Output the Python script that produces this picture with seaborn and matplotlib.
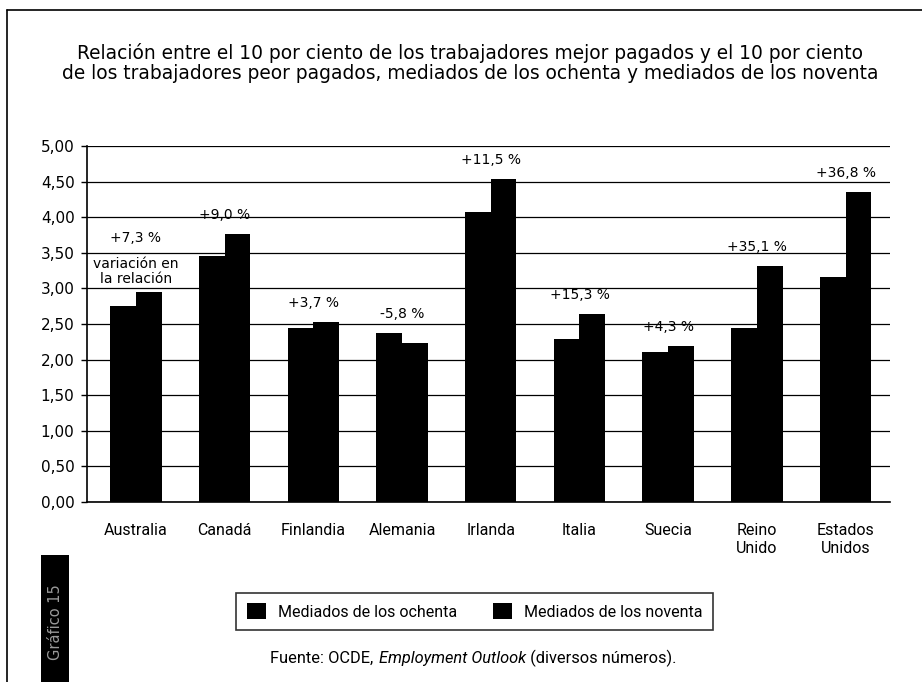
import matplotlib

matplotlib.use("Agg")
import matplotlib.pyplot as plt
import numpy as np
import pandas as pd
import seaborn as sns
from matplotlib.lines import Line2D
from matplotlib.patches import Rectangle

COUNTRIES = ["Australia", "Canadá", "Finlandia", "Alemania", "Irlanda", "Italia", "Suecia", "Reino\nUnido", "Estados\nUnidos"]
SERIES = ["Mediados de los ochenta", "Mediados de los noventa"]
MID_80S = [2.75, 3.45, 2.44, 2.37, 4.08, 2.29, 2.10, 2.44, 3.16]
MID_90S = [2.95, 3.76, 2.53, 2.24, 4.53, 2.64, 2.19, 3.31, 4.35]
CHANGE_PCT = [7.3, 9.0, 3.7, -5.8, 11.5, 15.3, 4.3, 35.1, 36.8]
Y_TICKS = np.arange(0, 5.01, 0.5)

NARROW = ["Roboto", "DejaVu Sans"]
WIDE = ["DejaVu Sans"]

sns.set_theme(style="white")
plt.rcParams["font.family"] = NARROW
plt.rcParams["text.color"] = "black"
plt.rcParams["xtick.color"] = "black"
plt.rcParams["ytick.color"] = "black"

W, H = 922, 682

df = pd.DataFrame(
    {
        "country": COUNTRIES * 2,
        "period": [SERIES[0]] * len(COUNTRIES) + [SERIES[1]] * len(COUNTRIES),
        "value": MID_80S + MID_90S,
    }
)

fig = plt.figure(figsize=(W / 100, H / 100), dpi=100)
ax = fig.add_axes([87 / W, 1 - 502 / H, 803 / W, 356 / H])

sns.barplot(
    data=df,
    x="country",
    y="value",
    hue="period",
    hue_order=SERIES,
    order=COUNTRIES,
    palette=["black", "black"],
    width=0.58,
    gap=0,
    linewidth=0,
    edgecolor="none",
    saturation=1,
    ax=ax,
)

handles, labels = ax.get_legend_handles_labels()
ax.legend_.remove()

ax.set_ylim(0, 5)
ax.set_xlim(-0.55, len(COUNTRIES) - 0.55)
ax.set_yticks(Y_TICKS)
ax.set_yticklabels([f"{v:.2f}".replace(".", ",") for v in Y_TICKS], family=WIDE, fontsize=11)
ax.set_xticks(range(len(COUNTRIES)))
ax.set_xticklabels(COUNTRIES, fontsize=11.5, va="top", linespacing=1.3)
ax.set_xticks(np.arange(-0.5, len(COUNTRIES)), minor=True)
ax.tick_params(axis="x", which="major", length=0, pad=15)
ax.tick_params(axis="x", which="minor", length=4, width=1, color="black", direction="out")
ax.tick_params(axis="y", length=4, width=1, color="black", direction="out", left=True, pad=5)
ax.set_xlabel("")
ax.set_ylabel("")

ax.yaxis.grid(True, color="black", linewidth=0.9)
ax.set_axisbelow(True)
for side in ["top", "right"]:
    ax.spines[side].set_visible(False)
for side in ["left", "bottom"]:
    ax.spines[side].set_color("black")
    ax.spines[side].set_linewidth(1.2)

# percentage change labels above each pair
for i, pct in enumerate(CHANGE_PCT):
    top = max(MID_80S[i], MID_90S[i])
    txt = f"{pct:+.1f} %".replace(".", ",")
    offset = 0.76 if i == 0 else 0.27
    ax.text(i, top + offset, txt, ha="center", va="center", fontsize=10, family=WIDE)
ax.text(0, max(MID_80S[0], MID_90S[0]) + 0.29, "variación en\nla relación", ha="center", va="center",
        fontsize=10, family=WIDE, linespacing=1.05)

fig.text(470 / W, 1 - 63 / H, "Relación entre el 10 por ciento de los trabajadores mejor pagados y el 10 por ciento\n"
         "de los trabajadores peor pagados, mediados de los ochenta y mediados de los noventa",
         ha="center", va="center", fontsize=13.4, family=WIDE, linespacing=1.1)

leg = fig.legend(handles, labels, loc="center", bbox_to_anchor=(236 / W, 1 - 632 / H, 477 / W, 41 / H),
                 mode="expand", ncol=2, fontsize=11.5, frameon=True, fancybox=False, edgecolor="black",
                 handlelength=1.2, handleheight=1.1, columnspacing=1.2, handletextpad=0.75,
                 borderpad=0.66, borderaxespad=0)
leg.get_frame().set_linewidth(1.2)

src_y = 1 - 658 / H
src = fig.text(270 / W, src_y, "Fuente: OCDE, ", fontsize=11.8, va="center", ha="left")
src2 = fig.text(0, src_y, "Employment Outlook", fontsize=11.8, style="italic", va="center")
src3 = fig.text(0, src_y, " (diversos números).", fontsize=11.8, va="center")
fig.canvas.draw()
r = fig.canvas.get_renderer()
src2.set_x(src.get_window_extent(r).x1 / fig.bbox.width + 2 / W)
src3.set_x(src2.get_window_extent(r).x1 / fig.bbox.width)

# outer frame
fig.add_artist(Line2D([7 / W, 1], [1 - 10 / H, 1 - 10 / H], color="black", linewidth=1.2))
fig.add_artist(Line2D([7 / W, 7 / W], [0, 1 - 10 / H], color="black", linewidth=1.2))

# side tab
fig.add_artist(Rectangle((41 / W, 0), 28 / W, 127 / H, facecolor="black", edgecolor="none",
                         transform=fig.transFigure))
fig.text(55 / W, 1 - 622 / H, "Gráfico 15", rotation=90, ha="center", va="center", color="#9a9a9a",
         fontsize=10.5, family=WIDE)

fig.savefig("out.png", dpi=100)
